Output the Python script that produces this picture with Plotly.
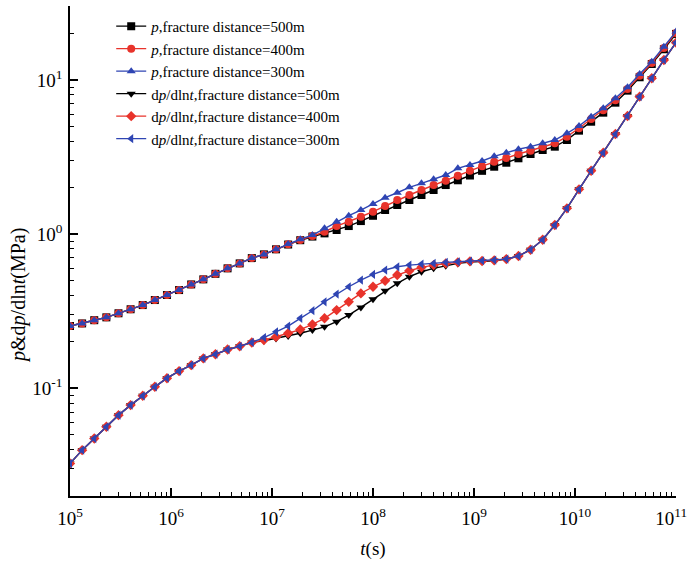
import plotly.graph_objects as go

# time grid (s), same for every curve
t = [1.000e5, 1.318e5, 1.738e5, 2.291e5, 3.020e5, 3.981e5, 5.248e5, 6.918e5, 9.120e5,
     1.202e6, 1.585e6, 2.089e6, 2.754e6, 3.631e6, 4.786e6, 6.310e6, 8.318e6,
     1.096e7, 1.445e7, 1.905e7, 2.512e7, 3.311e7, 4.365e7, 5.754e7, 7.586e7,
     1.000e8, 1.318e8, 1.738e8, 2.291e8, 3.020e8, 3.981e8, 5.248e8, 6.918e8, 9.120e8,
     1.202e9, 1.585e9, 2.089e9, 2.754e9, 3.631e9, 4.786e9, 6.310e9, 8.318e9,
     1.096e10, 1.445e10, 1.905e10, 2.512e10, 3.311e10, 4.365e10, 5.754e10, 7.586e10,
     1.000e11]

# pressure (MPa)
p_500 = [0.253, 0.263, 0.276, 0.288, 0.306, 0.325, 0.346, 0.373, 0.402, 0.433, 0.471,
         0.508, 0.552, 0.599, 0.645, 0.698, 0.738, 0.796, 0.855, 0.912, 0.963,
         1.010, 1.062, 1.127, 1.214, 1.314, 1.432, 1.543, 1.663, 1.792, 1.931,
         2.080, 2.233, 2.398, 2.572, 2.735, 2.904, 3.102, 3.306, 3.511, 3.690,
         4.077, 4.688, 5.359, 6.134, 7.122, 8.524, 10.41, 12.70, 15.82, 19.9]
p_400 = [0.253, 0.263, 0.276, 0.288, 0.306, 0.325, 0.346, 0.373, 0.402, 0.433, 0.471,
         0.508, 0.552, 0.599, 0.645, 0.698, 0.738, 0.796, 0.858, 0.916, 0.970,
         1.035, 1.127, 1.202, 1.295, 1.396, 1.520, 1.663, 1.792, 1.931, 2.080,
         2.218, 2.387, 2.572, 2.756, 2.947, 3.116, 3.306, 3.474, 3.673, 3.882,
         4.285, 4.858, 5.580, 6.357, 7.380, 8.743, 10.66, 12.89, 16.14, 20.2]
p_300 = [0.253, 0.263, 0.276, 0.288, 0.306, 0.325, 0.346, 0.373, 0.402, 0.433, 0.471,
         0.508, 0.552, 0.599, 0.645, 0.698, 0.738, 0.796, 0.861, 0.925, 0.985,
         1.089, 1.202, 1.315, 1.432, 1.566, 1.721, 1.854, 2.011, 2.134, 2.265,
         2.416, 2.672, 2.805, 2.978, 3.196, 3.373, 3.548, 3.690, 3.882, 4.077,
         4.507, 5.025, 5.776, 6.548, 7.604, 8.971, 10.94, 13.15, 16.45, 20.6]

# pressure derivative dp/dlnt (MPa)
d_500 = [0.0324, 0.0396, 0.0471, 0.0561, 0.0668, 0.0776, 0.0892, 0.102, 0.116, 0.129,
         0.141, 0.156, 0.166, 0.178, 0.187, 0.198, 0.203, 0.210, 0.218, 0.227, 0.238,
         0.250, 0.270, 0.298, 0.334, 0.377, 0.429, 0.479, 0.529, 0.569, 0.599,
         0.622, 0.645, 0.658, 0.665, 0.671, 0.688, 0.720, 0.791, 0.918, 1.144,
         1.468, 1.951, 2.577, 3.373, 4.460, 5.837, 7.792, 10.26, 13.48, 17.47]
d_400 = [0.0324, 0.0396, 0.0471, 0.0561, 0.0668, 0.0776, 0.0892, 0.102, 0.116, 0.129,
         0.141, 0.156, 0.166, 0.178, 0.187, 0.198, 0.205, 0.215, 0.227, 0.240, 0.259,
         0.284, 0.321, 0.363, 0.412, 0.455, 0.498, 0.542, 0.578, 0.608, 0.629,
         0.645, 0.655, 0.665, 0.668, 0.675, 0.688, 0.720, 0.791, 0.918, 1.144,
         1.468, 1.951, 2.577, 3.373, 4.460, 5.837, 7.792, 10.26, 13.48, 17.47]
d_300 = [0.0324, 0.0396, 0.0471, 0.0561, 0.0668, 0.0776, 0.0892, 0.102, 0.116, 0.129,
         0.141, 0.156, 0.166, 0.178, 0.187, 0.198, 0.213, 0.232, 0.253, 0.284, 0.318,
         0.363, 0.408, 0.455, 0.503, 0.547, 0.584, 0.613, 0.629, 0.639, 0.645,
         0.655, 0.661, 0.668, 0.671, 0.678, 0.688, 0.720, 0.791, 0.918, 1.144,
         1.468, 1.951, 2.577, 3.373, 4.460, 5.837, 7.792, 10.26, 13.48, 17.47]

# tick labels (last one padded so it isn't clipped by the window edge)
x_tickvals = [1e5, 1e6, 1e7, 1e8, 1e9, 1e10, 1e11]
x_ticktext = ['10<sup>5</sup>', '10<sup>6</sup>', '10<sup>7</sup>', '10<sup>8</sup>',
              '10<sup>9</sup>', '10<sup>10</sup>', '10<sup>11</sup>&nbsp;&nbsp;']
y_tickvals = [0.1, 1, 10]
y_ticktext = ['10<sup>-1</sup>', '10<sup>0</sup>', '10<sup>1</sup>']

black = '#000000'
red = '#e8332b'
blue = '#2f45b3'

series = [
    ('<i>p</i>,fracture distance=500m', p_500, black, 'square'),
    ('<i>p</i>,fracture distance=400m', p_400, red, 'circle'),
    ('<i>p</i>,fracture distance=300m', p_300, blue, 'triangle-up'),
    ('d<i>p</i>/dln<i>t</i>,fracture distance=500m', d_500, black, 'triangle-down'),
    ('d<i>p</i>/dln<i>t</i>,fracture distance=400m', d_400, red, 'diamond'),
    ('d<i>p</i>/dln<i>t</i>,fracture distance=300m', d_300, blue, 'triangle-left'),
]

fig = go.Figure()

# black -> red -> blue so the blue curves sit on top, as in the original
for name, vals, color, symbol in series:
    fig.add_trace(go.Scatter(x=t, y=vals, name=name, mode='lines+markers',
                             line=dict(color=color, width=1.4),
                             marker=dict(symbol=symbol, size=8, color=color)))

serif = 'Liberation Serif'

fig.update_layout(
    width=689, height=564,
    margin=dict(l=70, r=13, t=6, b=68, autoexpand=False),
    paper_bgcolor='white', plot_bgcolor='white',
    font=dict(family=serif, size=16, color='black'),
    showlegend=True,
    legend=dict(x=0.068, y=0.992, xanchor='left', yanchor='top',
                bgcolor='rgba(0,0,0,0)', font=dict(family=serif, size=15, color='black'),
                tracegroupgap=0, itemwidth=30),
)

axis_common = dict(type='log', automargin=False, ticklabeloverflow='allow',
                   showline=True, linecolor='black', linewidth=1.5, mirror=False,
                   showgrid=False, zeroline=False,
                   ticks='inside', ticklen=8, tickwidth=1.5, tickcolor='black',
                   minor=dict(ticks='inside', ticklen=4, tickwidth=1, tickcolor='black', dtick='D1'),
                   tickfont=dict(family=serif, size=19, color='black'))

fig.update_xaxes(range=[5, 11], tickmode='array', tickvals=x_tickvals, ticktext=x_ticktext,
                 ticklabelstandoff=4, **axis_common,
                 title=dict(text='<i>t</i>(s)', font=dict(family=serif, size=19), standoff=14))

fig.update_yaxes(range=[-1.70, 1.48], tickmode='array', tickvals=y_tickvals, ticktext=y_ticktext,
                 ticklabelstandoff=2, **axis_common)

# y title placed by hand so it sits where the original has it
fig.add_annotation(text='<i>p</i>&amp;d<i>p</i>/dln<i>t</i>(MPa)', textangle=-90,
                   xref='paper', yref='paper', x=-0.086, y=0.41,
                   xanchor='center', yanchor='middle', showarrow=False,
                   font=dict(family=serif, size=20, color='black'))

# page body has a default 8px margin; drop it so the figure sits at the window corner
fig.write_html('out.html', config={'displayModeBar': False},
               post_script="document.body.style.margin='0px';")
